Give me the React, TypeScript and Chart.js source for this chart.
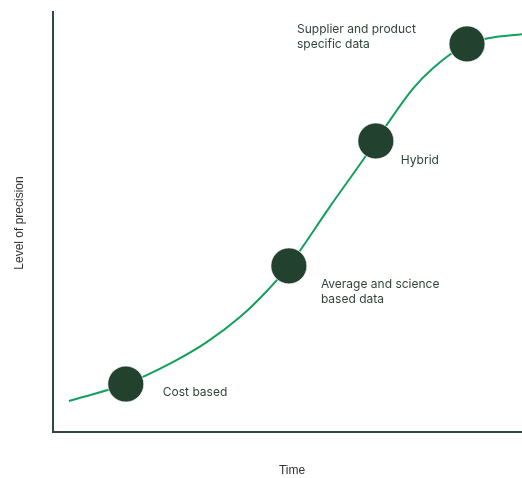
import React, { useEffect, useRef } from "react";
import { Chart, registerables } from "chart.js";

Chart.register(...registerables);

// Curve: time (0-100) vs level of precision (0-100)
const curveX = [3.6, 15.7, 25.7, 33.0, 40.0, 44.3, 50.4, 59.1, 66.6, 70.9, 76.8, 81.1, 88.3, 93.2, 100];
const curveY = [7.6, 11.6, 16.8, 21.6, 27.5, 32.0, 39.6, 53.6, 65.4, 72.5, 81.6, 86.5, 92.2, 93.6, 94.5];

// Stages
const stageNames = [["Cost based"], ["Average and science", "based data"], ["Hybrid"], ["Supplier and product", "specific data"]];
const stageX = [15.7, 50.4, 68.9, 88.3];
const stageY = [11.6, 39.6, 69.2, 92.2];

const xTitle = "Time";
const yTitle = "Level of precision";

// label placement relative to dot centre (px)
const labelOffsets: [number, number][] = [
  [37, 8],
  [32, 19],
  [25, 19],
  [-170, -15],
];

export default function App() {
  const ref = useRef<HTMLCanvasElement | null>(null);
  useEffect(() => {
    if (!ref.current) return;
    const labelsPlugin = {
      id: "labels",
      beforeDatasetsDraw(chart: any) {
        const ctx = chart.ctx;
        const { left, top, right, bottom } = chart.chartArea;
        ctx.save();
        ctx.strokeStyle = "#2f4a3b";
        ctx.lineWidth = 2;
        ctx.beginPath();
        ctx.moveTo(left + 1, top);
        ctx.lineTo(left + 1, bottom);
        ctx.moveTo(left, bottom - 1);
        ctx.lineTo(right, bottom - 1);
        ctx.stroke();
        ctx.restore();
      },
      afterDraw(chart: any) {
        const ctx = chart.ctx;
        const xs = chart.scales.x;
        const ys = chart.scales.y;
        ctx.save();
        ctx.fillStyle = "#2f4538";
        ctx.font = '12px Inter, "Noto Sans", sans-serif';
        ctx.textBaseline = "middle";
        ctx.textAlign = "left";
        stageNames.forEach((lines, i) => {
          const px = xs.getPixelForValue(stageX[i]) + labelOffsets[i][0];
          const py = ys.getPixelForValue(stageY[i]) + labelOffsets[i][1];
          lines.forEach((l, j) => ctx.fillText(l, px, py + j * 15));
        });
        ctx.fillStyle = "#333333";
        ctx.font = '12px "Liberation Sans", Arial, sans-serif';
        ctx.textAlign = "center";
        ctx.fillText(xTitle, 292, 471);
        ctx.translate(20, 223);
        ctx.rotate(-Math.PI / 2);
        ctx.fillText(yTitle, 0, 0);
        ctx.restore();
      },
    };
    const chart = new Chart(ref.current, {
      type: "scatter",
      data: {
        datasets: [
          {
            data: stageX.map((x, i) => ({ x, y: stageY[i] })),
            pointRadius: 18,
            pointHoverRadius: 18,
            backgroundColor: "#23412f",
            borderColor: "rgba(255,255,255,0.7)",
            borderWidth: 1,
            order: 0,
            clip: false as any,
          },
          {
            type: "line",
            data: curveX.map((x, i) => ({ x, y: curveY[i] })),
            borderColor: "#13a05a",
            borderWidth: 2,
            pointRadius: 0,
            showLine: true,
            cubicInterpolationMode: "monotone",
            fill: false,
            order: 1,
          } as any,
        ],
      },
      options: {
        responsive: true,
        maintainAspectRatio: false,
        animation: false,
        events: [],
        layout: { autoPadding: false, padding: { left: 52, top: 11, right: 0, bottom: 45 } },
        plugins: { legend: { display: false }, tooltip: { enabled: false } },
        scales: {
          x: { type: "linear", min: 0, max: 100, display: false },
          y: { type: "linear", min: 0, max: 100, display: false },
        },
      },
      plugins: [labelsPlugin],
    });
    return () => chart.destroy();
  }, []);
  return (
    <div style={{ position: "absolute", left: 0, top: 0, width: 522, height: 478 }}>
      <canvas ref={ref} />
    </div>
  );
}
